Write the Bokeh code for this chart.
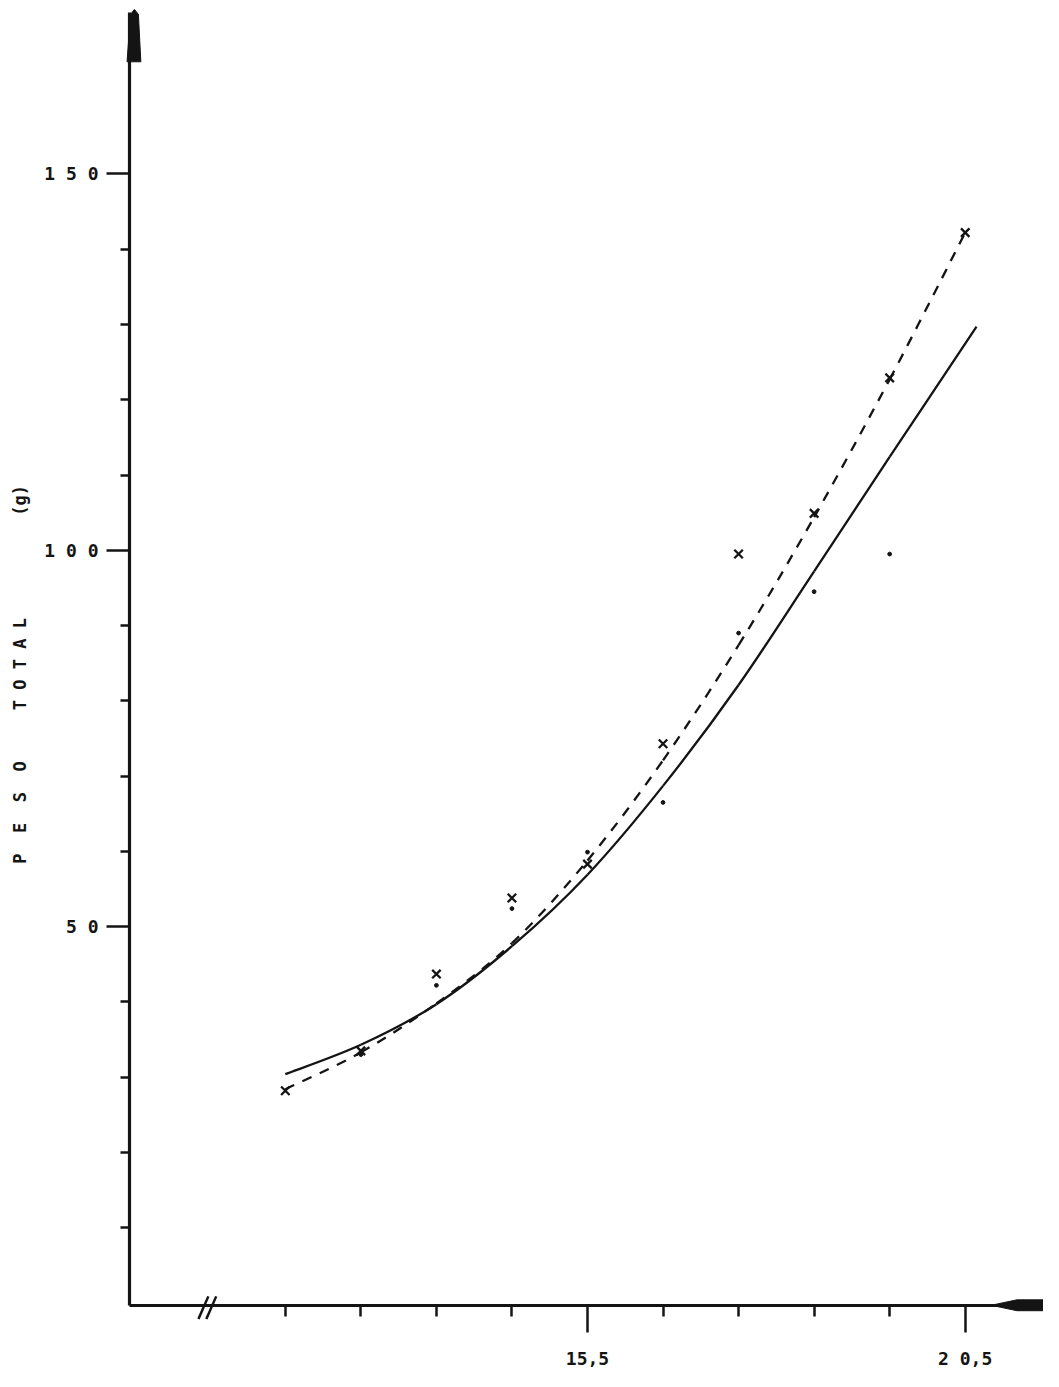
from bokeh.plotting import figure
from bokeh.models import Range1d, FixedTicker
from bokeh.embed import file_html
from bokeh.resources import INLINE

# ---------------- data ----------------
# x axis: comprimento, y axis: peso total (g)
length_major = [15.5, 20.5]
length_minor = [11.5, 12.5, 13.5, 14.5, 16.5, 17.5, 18.5, 19.5]
length_labels = {15.5: "15,5", 20.5: "2 0,5"}

weight_major = [50, 100, 150]
weight_minor = [10, 20, 30, 40, 60, 70, 80, 90, 110, 120, 130, 140]
weight_labels = {50: "5 0", 100: "1 0 0", 150: "1 5 0"}

NB = "\u00a0"
y_title = ("P" + NB * 2 + "E" + NB * 2 + "S" + NB * 2 + "O" + NB * 5
           + "T" + NB + "O" + NB + "T" + NB + "A" + NB + "L" + NB * 10
           + "(g)" + NB * 3)

# observed means (x markers)
cross_len = [11.5, 12.5, 13.5, 14.5, 15.5, 16.5, 17.5, 18.5, 19.5, 20.5]
cross_w = [28.2, 33.5, 43.7, 53.8, 58.3, 74.3, 99.5, 104.9, 122.9, 142.2]

# second series (dots)
dot_len = [12.5, 13.5, 14.5, 15.5, 16.5, 17.5, 18.5, 19.5]
dot_w = [33.0, 42.2, 52.4, 59.9, 66.5, 89.0, 94.5, 99.5]

# fitted curves
solid_len = [11.5, 12.5, 13.5, 14.5, 15.5, 16.5, 17.5, 18.5, 19.5, 20.65]
solid_w = [30.4, 34.3, 39.7, 47.4, 56.9, 68.7, 82.1, 97.2, 112.4, 129.7]
dash_len = [11.5, 12.5, 13.5, 14.5, 15.5, 16.5, 17.5, 18.5, 19.5, 20.5]
dash_w = [28.4, 33.3, 39.8, 47.8, 58.8, 72.1, 87.4, 104.4, 122.7, 142.2]

# ---------------- geometry ----------------
W, H = 1043, 1371
REF_W, REF_H = 1059, 1387
REF_PX_X = 76.7     # reference pixels per unit of length
REF_PX_Y = 7.615    # reference pixels per gram
X_LEFT = 15.5 - 596 / REF_PX_X
X_RIGHT = X_LEFT + REF_W / REF_PX_X
Y_TOP = 1317.7 / REF_PX_Y
Y_BOTTOM = Y_TOP - REF_H / REF_PX_Y
YAXIS_AT = 15.5 - 465 / REF_PX_X     # where the vertical axis stands
XAXIS_AT = -0.3                      # where the horizontal axis stands


def gx(r):   # reference pixel -> data x (decorations only)
    return X_LEFT + r / REF_PX_X


def gy(r):   # reference pixel -> data y (decorations only)
    return Y_TOP - r / REF_PX_Y


INK = "#141414"
FONT = "DejaVu Sans Mono"

p = figure(width=W, height=H, output_backend="svg", toolbar_location=None,
           x_range=Range1d(X_LEFT, X_RIGHT), y_range=Range1d(Y_BOTTOM, Y_TOP),
           min_border_left=0, min_border_right=0, min_border_top=0, min_border_bottom=0)
p.outline_line_color = None
p.grid.visible = False
p.background_fill_color = "white"
p.border_fill_color = "white"

# ---- x axis ----
xa = p.xaxis[0]
xa.fixed_location = XAXIS_AT
xa.bounds = (YAXIS_AT, X_RIGHT)
xa.ticker = FixedTicker(ticks=length_major, minor_ticks=length_minor)
xa.major_label_overrides = length_labels
xa.axis_line_width = 3.2
xa.axis_line_color = INK
xa.major_tick_line_width = 2.5
xa.minor_tick_line_width = 2.5
xa.major_tick_line_color = INK
xa.minor_tick_line_color = INK
xa.major_tick_in = 0
xa.major_tick_out = 27
xa.minor_tick_in = 0
xa.minor_tick_out = 11
xa.major_label_standoff = 16
xa.major_label_text_font = FONT
xa.major_label_text_font_style = "bold"
xa.major_label_text_font_size = "18px"
xa.major_label_text_color = INK

# ---- y axis ----
ya = p.yaxis[0]
ya.fixed_location = YAXIS_AT
ya.bounds = (XAXIS_AT, gy(12))
ya.ticker = FixedTicker(ticks=weight_major, minor_ticks=weight_minor)
ya.major_label_overrides = weight_labels
ya.axis_line_width = 3.2
ya.axis_line_color = INK
ya.major_tick_line_width = 2.5
ya.minor_tick_line_width = 2.5
ya.major_tick_line_color = INK
ya.minor_tick_line_color = INK
ya.major_tick_in = 0
ya.major_tick_out = 23
ya.minor_tick_in = 0
ya.minor_tick_out = 9
ya.major_label_standoff = 8
ya.major_label_text_font = FONT
ya.major_label_text_font_style = "bold"
ya.major_label_text_font_size = "18px"
ya.major_label_text_color = INK
ya.axis_label = y_title
ya.axis_label_text_font = FONT
ya.axis_label_text_font_style = "bold"
ya.axis_label_text_font_size = "17px"
ya.axis_label_text_color = INK
ya.axis_label_standoff = 11

# ---- arrow heads and axis break (decorations) ----
p.patch([gx(128.5), gx(142.5), gx(140), gx(136), gx(132)],
        [gy(62), gy(62), gy(14), gy(9), gy(14)],
        fill_color=INK, line_color=INK, line_width=1)
p.patch([gx(1006), gx(1032), gx(1062), gx(1062), gx(1032)],
        [gy(1320), gy(1314.5), gy(1314.5), gy(1325.5), gy(1325.5)],
        fill_color=INK, line_color=INK, line_width=1)
p.segment(x0=[gx(201), gx(209)], y0=[gy(1334), gy(1334)],
          x1=[gx(211), gx(219)], y1=[gy(1311), gy(1311)],
          line_color=INK, line_width=2.5)


# ---- curves: smooth Catmull-Rom path through the read points ----
def smooth_segments(xs, ys):
    n = len(xs)
    x0, y0, x1, y1, cx0, cy0, cx1, cy1 = [], [], [], [], [], [], [], []
    for i in range(n - 1):
        ia, ib = max(i - 1, 0), min(i + 2, n - 1)
        x0.append(xs[i]); y0.append(ys[i])
        x1.append(xs[i + 1]); y1.append(ys[i + 1])
        cx0.append(xs[i] + (xs[i + 1] - xs[ia]) / 6.0)
        cy0.append(ys[i] + (ys[i + 1] - ys[ia]) / 6.0)
        cx1.append(xs[i + 1] - (xs[ib] - xs[i]) / 6.0)
        cy1.append(ys[i + 1] - (ys[ib] - ys[i]) / 6.0)
    return dict(x0=x0, y0=y0, x1=x1, y1=y1, cx0=cx0, cy0=cy0, cx1=cx1, cy1=cy1)


p.bezier(**smooth_segments(solid_len, solid_w), line_color=INK, line_width=2.3)
p.bezier(**smooth_segments(dash_len, dash_w), line_color=INK, line_width=2.3,
         line_dash="10 9")
p.scatter(cross_len, cross_w, marker="x", size=12, line_color=INK, line_width=2.3)
p.scatter(dot_len, dot_w, marker="circle", size=3.8, fill_color=INK, line_color=INK)

open("out.html", "w").write(file_html(p, INLINE))
